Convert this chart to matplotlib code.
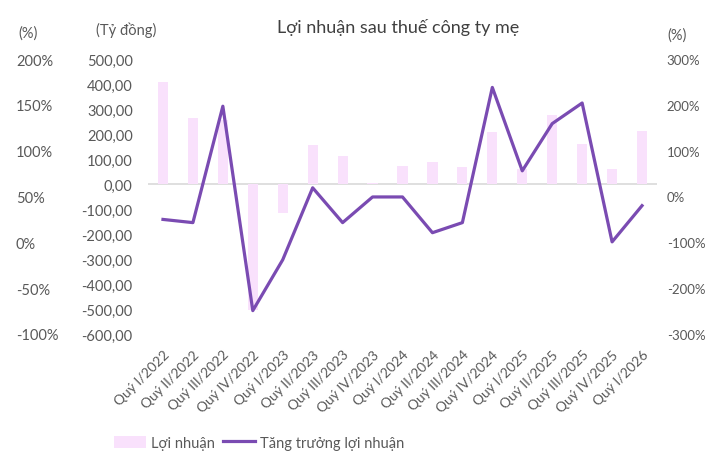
import matplotlib
matplotlib.use("Agg")
import matplotlib.pyplot as plt
import numpy as np

plt.rcParams['font.family'] = ['Lato', 'DejaVu Sans']

categories = ["Quý I/2022", "Quý II/2022", "Quý III/2022", "Quý IV/2022",
              "Quý I/2023", "Quý II/2023", "Quý III/2023", "Quý IV/2023",
              "Quý I/2024", "Quý II/2024", "Quý III/2024", "Quý IV/2024",
              "Quý I/2025", "Quý II/2025", "Quý III/2025", "Quý IV/2025",
              "Quý I/2026"]
profit = [409, 263, 258, -505, -116, 156, 112, 5, 73, 89, 69, 207,
          60, 277, 160, 60, 212]
growth = [-50, -57, 197, -249, -138, 19, -57, -1, -1, -79, -57, 238,
          56, 159, 204, -99, -20]

left_pct_ticks = [-100, -50, 0, 50, 100, 150, 200]
money_ticks = list(range(-600, 501, 100))
right_pct_ticks = list(range(-300, 301, 100))

GRAY = "#595959"
PINK = "#F9E1FC"
PURPLE = "#7A4BB2"

W, H = 708, 452
fig = plt.figure(figsize=(W / 100, H / 100), dpi=100)
x0, x1, y0, y1 = 148, 657, 60, 335
ax = fig.add_axes([x0 / W, 1 - y1 / H, (x1 - x0) / W, (y1 - y0) / H])

x = np.arange(len(categories))
bars = ax.bar(x, profit, width=0.34, color=PINK, label="Lợi nhuận", zorder=2)
ax.axhline(0, color="#D9D9D9", lw=1.2, zorder=1)
ax.set_ylim(-600, 500)
ax.set_xlim(-0.5, len(categories) - 0.5)
ax.set_yticks(money_ticks)
ax.set_yticklabels([f"{v:.2f}".replace(".", ",") for v in money_ticks])
ax.set_xticks(x)
ax.set_xticklabels(categories, rotation=45, ha="right", rotation_mode="anchor")
ax.tick_params(axis="both", length=0, colors=GRAY, labelsize=10.5)
ax.tick_params(axis="y", pad=11)
ax.tick_params(axis="x", pad=10, labelsize=10)
for s in ax.spines.values():
    s.set_visible(False)

ax2 = ax.twinx()
line, = ax2.plot(x, growth, color=PURPLE, lw=2.3, label="Tăng trưởng lợi nhuận",
                 zorder=3)
ax2.set_ylim(-300, 300)
ax2.set_yticks(right_pct_ticks)
ax2.set_yticklabels([f"{v}%" for v in right_pct_ticks])
ax2.tick_params(axis="y", length=0, colors=GRAY, labelsize=9.5, pad=7)
for s in ax2.spines.values():
    s.set_visible(False)

ax3 = ax.twinx()
ax3.set_ylim(-100, 200)
ax3.yaxis.set_ticks_position("left")
ax3.spines["left"].set_position(("axes", (16 - x0) / (x1 - x0)))
ax3.set_yticks(left_pct_ticks)
ax3.set_yticklabels([f"{v}%" for v in left_pct_ticks])
for lab in ax3.get_yticklabels():
    lab.set_horizontalalignment("left")
ax3.tick_params(axis="y", length=0, colors=GRAY, labelsize=10.5, pad=0)
for s in ax3.spines.values():
    s.set_visible(False)

fig.text(18 / W, 1 - 34 / H, "(%)", color=GRAY, fontsize=10.5, va="center")
fig.text(96 / W, 1 - 30 / H, "(Tỷ đồng)", color=GRAY, fontsize=10.5, va="center")
fig.text(667 / W, 1 - 36 / H, "(%)", color=GRAY, fontsize=10.5, va="center")
fig.text(398 / W, 1 - 27 / H, "Lợi nhuận sau thuế công ty mẹ", color="#404040",
         fontsize=13, ha="center", va="center")

fig.legend(handles=[bars, line], loc="center left",
           bbox_to_anchor=(101 / W, 1 - 444 / H), ncol=2, frameon=False,
           fontsize=10.5, labelcolor=GRAY, handlelength=2.2, handleheight=0.9,
           columnspacing=0.6, handletextpad=0.3)

fig.savefig("out.png", dpi=100)
